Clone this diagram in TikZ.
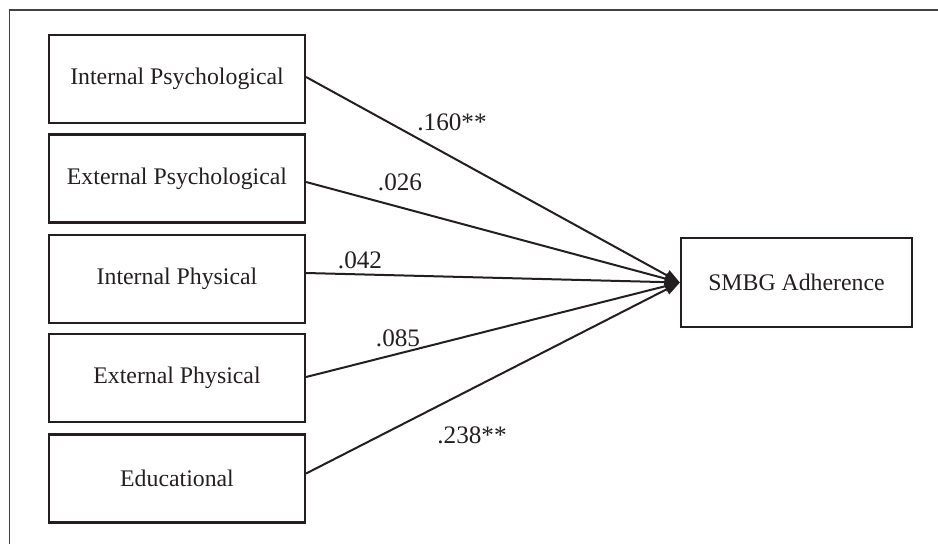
\documentclass[tikz,border=0pt]{standalone}
\usepackage{fontspec}
\setmainfont{Liberation Serif}
\usetikzlibrary{arrows.meta}
\definecolor{ink}{HTML}{231F20}
\tikzset{
  box/.style={draw=ink, line width=1.1pt, minimum width=128pt, minimum height=44pt, inner sep=0pt, text=ink, font=\fontsize{11.9}{14}\selectfont},
  tbox/.style={box, minimum width=115.5pt, minimum height=44.5pt},
  lbl/.style={text=ink, inner sep=0pt, font=\fontsize{12.6}{15}\selectfont},
  path/.style={draw=ink, line width=1pt, -{Triangle[length=7.5pt,width=5.5pt]}},
  frame/.style={draw=ink!85, line width=0.6pt}
}
\begin{document}
\begin{tikzpicture}[x=0.5pt,y=-0.5pt]
\useasboundingbox (0,0) rectangle (938,543);
\coordinate (fa) at (9.5,545);
\coordinate (fb) at (9.5,10);
\coordinate (fc) at (940,10);
\draw[frame] (fa) -- (fb) -- (fc);
\node[box] (b1) at (177,79) {Internal Psychological};
\node[box] (b2) at (177,178.5) {External Psychological};
\node[box] (b3) at (177,279) {Internal Physical};
\node[box] (b4) at (177,378) {External Physical};
\node[box] (b5) at (177,478.5) {Educational};
\node[tbox] (t) at (796.5,282.5) {SMBG Adherence};
\draw[path] ([yshift=1pt]b1.east) -- (t.west);
\draw[path] ([yshift=-1.75pt]b2.east) -- (t.west);
\draw[path] ([yshift=3pt]b3.east) -- (t.west);
\draw[path] ([yshift=0.5pt]b4.east) -- (t.west);
\draw[path] ([yshift=2.5pt]b5.east) -- (t.west);
\node[lbl] (l1) at (452,122) {.160**};
\node[lbl] (l2) at (400,182) {.026};
\node[lbl] (l3) at (360,260) {.042};
\node[lbl] (l4) at (398,338) {.085};
\node[lbl] (l5) at (472,435) {.238**};
\end{tikzpicture}
\end{document}
